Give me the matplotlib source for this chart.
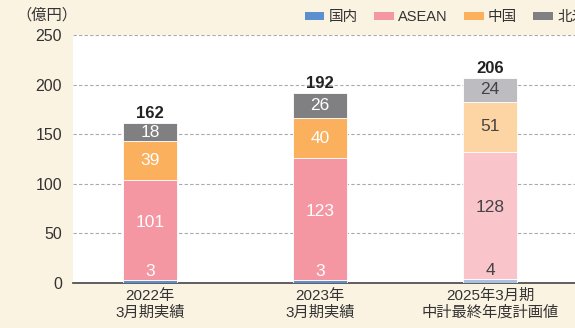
import numpy as np
import matplotlib.pyplot as plt
from matplotlib.patches import Patch

plt.rcParams['font.family'] = ['Liberation Sans', 'Noto Sans CJK JP']

periods = ['2022年\n3月期実績', '2023年\n3月期実績', '2025年3月期\n中計最終年度計画値']
regions = ['国内', 'ASEAN', '中国', '北米']
domestic = [3, 3, 4]
asean = [101, 123, 128]
china = [39, 40, 51]
north_america = [18, 26, 24]
totals = [162, 192, 206]

solid = ['#5b8fcf', '#f596a3', '#fbb05e', '#808083']
light = ['#a7c1e6', '#f9c5cb', '#fdd5a4', '#bdbdc1']
cream = '#fbf3e2'

fig = plt.figure(figsize=(5.75, 3.28), dpi=100, facecolor=cream)
ax = fig.add_axes([0.127, 0.137, 0.873, 0.756])
ax.set_facecolor('white')

x = np.arange(len(periods))
w = 0.318
series = [domestic, asean, china, north_america]
bottom = np.zeros(len(periods))
for i, vals in enumerate(series):
    for j in range(len(periods)):
        c = light[i] if j == 2 else solid[i]
        ax.bar(x[j], vals[j], w, bottom=bottom[j], color=c, edgecolor='white',
               linewidth=0.6, zorder=3)
        tc = '#444444' if j == 2 else 'white'
        if i == 0:
            # domestic segment is too thin, label sits just above it
            ty = bottom[j] + vals[j] + 9
        elif i == 1:
            ty = bottom[j] + vals[j] / 2 + 8
        else:
            ty = bottom[j] + vals[j] / 2
        ax.text(x[j], ty, str(vals[j]), ha='center', va='center', color=tc,
                fontsize=12.5, zorder=4)
    bottom += np.array(vals)

for j in range(len(periods)):
    ax.text(x[j], bottom[j] + 2, str(totals[j]), ha='center', va='bottom',
            fontsize=12, fontweight='bold', color='#222222', zorder=4)

ax.set_xlim(-0.453, 2.5)
ax.set_ylim(0, 250)
ax.set_yticks(range(0, 251, 50))
ax.yaxis.grid(True, linestyle=(0, (3, 2)), color='#aaaaaa', linewidth=0.8, zorder=0)
ax.set_xticks(x)
ax.set_xticklabels(periods, fontsize=11, color='#333333', linespacing=1.25)
ax.tick_params(axis='y', length=0, labelsize=11.5, labelcolor='#333333', pad=8)
ax.tick_params(axis='x', length=0, pad=4)
for s in ['top', 'right', 'left']:
    ax.spines[s].set_visible(False)
ax.spines['bottom'].set_color('#444444')
ax.spines['bottom'].set_linewidth(1.2)

fig.text(0.028, 0.955, '（億円）', fontsize=11, color='#333333', va='center', ha='left')

# legend runs off the right edge, as in the printed layout
handles = [Patch(facecolor=c) for c in solid]
fig.legend(handles, regions, loc='center left', bbox_to_anchor=(0.53, 0.948),
           ncol=4, frameon=False, fontsize=10.5, handlelength=1.35, handleheight=0.5,
           handletextpad=0.3, columnspacing=1.1, labelcolor='#333333',
           borderaxespad=0, borderpad=0)

fig.savefig('out.png', dpi=100, facecolor=cream)
